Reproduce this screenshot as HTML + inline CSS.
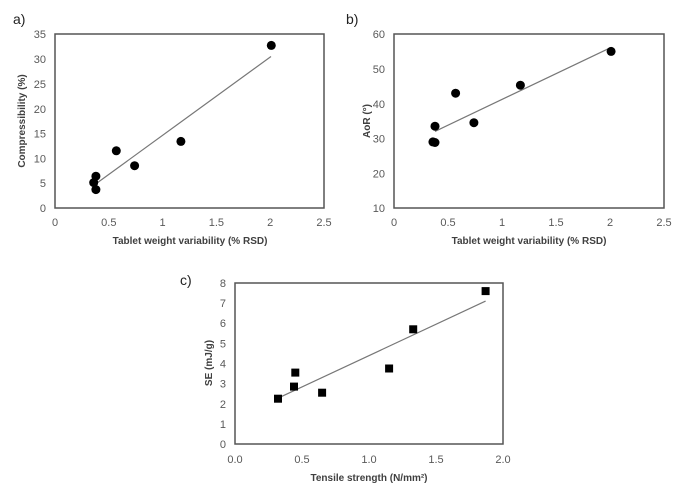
<!DOCTYPE html>
<html><head><meta charset="utf-8"><style>
html,body{margin:0;padding:0;background:#fff;}
svg{display:block;font-family:"Liberation Sans",sans-serif;}
.t{font-size:11px;fill:#595959;}
.ax{font-size:10px;font-weight:bold;fill:#404040;}
.lb{font-size:14px;fill:#222;}
.box{fill:none;stroke:#555;stroke-width:1.5;}
.fit{stroke:#777;stroke-width:1.2;}
</style></head><body>
<svg width="697" height="500" viewBox="0 0 697 500">
<!-- Chart a -->
<text class="lb" x="13" y="24">a)</text>
<rect class="box" x="55" y="34" width="269" height="174"/>
<g class="t" text-anchor="end">
<text x="46" y="212">0</text><text x="46" y="187">5</text><text x="46" y="162.5">10</text><text x="46" y="137.5">15</text><text x="46" y="113">20</text><text x="46" y="88">25</text><text x="46" y="63">30</text><text x="46" y="38">35</text>
</g>
<g class="t" text-anchor="middle">
<text x="55" y="226">0</text><text x="108.8" y="226">0.5</text><text x="162.6" y="226">1</text><text x="216.4" y="226">1.5</text><text x="270.2" y="226">2</text><text x="324" y="226">2.5</text>
</g>
<text class="ax" x="190" y="244" text-anchor="middle">Tablet weight variability (% RSD)</text>
<text class="ax" transform="translate(25,121) rotate(-90)" text-anchor="middle">Compressibility (%)</text>
<line class="fit" x1="97" y1="183" x2="271" y2="56.5"/>
<g fill="#000">
<circle cx="93.7" cy="182.6" r="4.5"/><circle cx="95.9" cy="176.2" r="4.5"/><circle cx="95.9" cy="189.6" r="4.5"/><circle cx="116.3" cy="150.8" r="4.5"/><circle cx="134.6" cy="165.7" r="4.5"/><circle cx="180.9" cy="141.4" r="4.5"/><circle cx="271.3" cy="45.4" r="4.5"/>
</g>
<!-- Chart b -->
<text class="lb" x="346" y="24">b)</text>
<rect class="box" x="394" y="34" width="270" height="174"/>
<g class="t" text-anchor="end">
<text x="385" y="212">10</text><text x="385" y="177.5">20</text><text x="385" y="142.5">30</text><text x="385" y="108">40</text><text x="385" y="73">50</text><text x="385" y="38">60</text>
</g>
<g class="t" text-anchor="middle">
<text x="394" y="226">0</text><text x="448" y="226">0.5</text><text x="502" y="226">1</text><text x="556" y="226">1.5</text><text x="610" y="226">2</text><text x="664" y="226">2.5</text>
</g>
<text class="ax" x="529" y="244" text-anchor="middle">Tablet weight variability (% RSD)</text>
<text class="ax" transform="translate(370,121) rotate(-90)" text-anchor="middle">AoR (°)</text>
<line class="fit" x1="435" y1="131.4" x2="610" y2="47.9"/>
<g fill="#000">
<circle cx="432.9" cy="141.9" r="4.5"/><circle cx="435" cy="142.5" r="4.5"/><circle cx="435" cy="126.2" r="4.5"/><circle cx="455.6" cy="93.2" r="4.5"/><circle cx="473.9" cy="122.7" r="4.5"/><circle cx="520.4" cy="85.2" r="4.5"/><circle cx="611.1" cy="51.4" r="4.5"/>
</g>
<!-- Chart c -->
<text class="lb" x="180" y="285">c)</text>
<rect class="box" x="235" y="283" width="268" height="161"/>
<g class="t" text-anchor="end">
<text x="226" y="448">0</text><text x="226" y="428">1</text><text x="226" y="408">2</text><text x="226" y="387.5">3</text><text x="226" y="367.5">4</text><text x="226" y="347.5">5</text><text x="226" y="327">6</text><text x="226" y="307">7</text><text x="226" y="287">8</text>
</g>
<g class="t" text-anchor="middle">
<text x="235" y="463">0.0</text><text x="302" y="463">0.5</text><text x="369" y="463">1.0</text><text x="436" y="463">1.5</text><text x="503" y="463">2.0</text>
</g>
<text class="ax" x="369" y="481" text-anchor="middle">Tensile strength (N/mm²)</text>
<text class="ax" transform="translate(212,363) rotate(-90)" text-anchor="middle">SE (mJ/g)</text>
<line class="fit" x1="279" y1="397.7" x2="485.6" y2="301.1"/>
<g fill="#000">
<rect x="274" y="394.7" width="8" height="8"/><rect x="290" y="382.6" width="8" height="8"/><rect x="291.3" y="368.6" width="8" height="8"/><rect x="318.1" y="388.7" width="8" height="8"/><rect x="385.1" y="364.5" width="8" height="8"/><rect x="409.2" y="325.3" width="8" height="8"/><rect x="481.6" y="287.1" width="8" height="8"/>
</g>
</svg>
</body></html>
